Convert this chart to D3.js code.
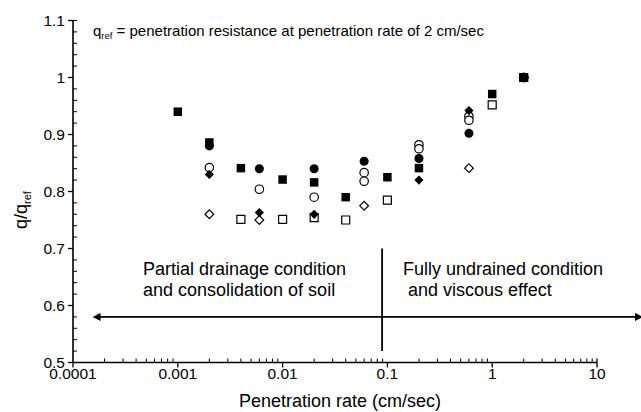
<!DOCTYPE html>
<html>
<head>
<meta charset="utf-8">
<script src="https://cdn.jsdelivr.net/npm/d3@7"></script>
<style>
  body { margin: 0; background: #fff; }
  text { font-family: "Liberation Sans", Arial, sans-serif; fill: #000; }
</style>
</head>
<body>
<svg id="chart" width="641" height="412"></svg>
<script>
// values: [rate (cm/sec), q/qref]
var filledSquare = [[0.001, 0.94], [0.002, 0.886], [0.004, 0.841], [0.01, 0.821], [0.02, 0.816],
                    [0.04, 0.79], [0.1, 0.825], [0.2, 0.841], [1, 0.971], [2, 1.0]];
var openSquare   = [[0.004, 0.751], [0.01, 0.751], [0.02, 0.754], [0.04, 0.75], [0.1, 0.785],
                    [1, 0.952], [2, 1.0]];
var filledCircle = [[0.002, 0.88], [0.006, 0.84], [0.02, 0.84], [0.06, 0.853], [0.2, 0.858],
                    [0.6, 0.902], [2, 1.0]];
var openCircle   = [[0.002, 0.842], [0.006, 0.804], [0.02, 0.79], [0.06, 0.833], [0.06, 0.818],
                    [0.2, 0.882], [0.2, 0.875], [0.6, 0.932], [0.6, 0.925], [2, 1.0]];
var filledDiamond = [[0.002, 0.83], [0.006, 0.763], [0.02, 0.76], [0.2, 0.82], [0.6, 0.942], [2, 1.0]];
var openDiamond   = [[0.002, 0.76], [0.006, 0.75], [0.06, 0.775], [0.6, 0.841], [2, 1.0]];

var xTickValues = [0.0001, 0.001, 0.01, 0.1, 1, 10];
var xTickLabels = ["0.0001", "0.001", "0.01", "0.1", "1", "10"];
var yTickValues = [0.5, 0.6, 0.7, 0.8, 0.9, 1.0, 1.1];
var yTickLabels = ["0.5", "0.6", "0.7", "0.8", "0.9", "1", "1.1"];

// boundary between the two regimes and the arrow across it
var boundaryRate = 0.089;
var boundaryRange = [0.52, 0.7];
var arrowLevel = 0.58;
var arrowSpan = [0.00018, 27];

var svg = d3.select("#chart");

var x = d3.scaleLog().domain([0.0001, 10]).range([73, 597]),
    y = d3.scaleLinear().domain([0.5, 1.1]).range([362.5, 20.5]);

// x axis: major ticks outward, minor ticks inward
var xAxis = svg.append("g").attr("transform", "translate(0," + y(0.5) + ")");
xAxis.append("line").attr("x1", x(0.0001)).attr("x2", x(10))
  .attr("stroke", "#000").attr("stroke-width", 1.6);
var minorX = x.ticks().filter(function(v) {
  return Math.abs(Math.log10(v) - Math.round(Math.log10(v))) > 1e-6;
});
xAxis.selectAll(".minor").data(minorX).enter().append("line")
  .attr("x1", function(d) { return x(d); }).attr("x2", function(d) { return x(d); })
  .attr("y1", 0).attr("y2", -4)
  .attr("stroke", "#000").attr("stroke-width", 1);
xAxis.selectAll(".major").data(xTickValues).enter().append("line")
  .attr("x1", function(d) { return x(d); }).attr("x2", function(d) { return x(d); })
  .attr("y1", 0).attr("y2", 5)
  .attr("stroke", "#000").attr("stroke-width", 1.3);
xAxis.append("line").attr("x1", x(10)).attr("x2", x(10)).attr("y1", 0).attr("y2", -4)
  .attr("stroke", "#000").attr("stroke-width", 1.3);
xAxis.selectAll(".lbl").data(xTickValues).enter().append("text")
  .attr("x", function(d) { return x(d); }).attr("y", 16)
  .attr("text-anchor", "middle").style("font-size", "15.5px")
  .text(function(d, i) { return xTickLabels[i]; });

// y axis
var yAxis = svg.append("g").attr("transform", "translate(" + x(0.0001) + ",0)");
yAxis.append("line").attr("y1", y(0.5)).attr("y2", y(1.1))
  .attr("stroke", "#000").attr("stroke-width", 1.6);
var minorY = d3.range(26, 56).map(function(i) { return i / 50; })
  .filter(function(v) { return Math.abs(v * 10 - Math.round(v * 10)) > 1e-6; });
minorY.push(1.1);
yAxis.selectAll(".minor").data(minorY).enter().append("line")
  .attr("y1", function(d) { return y(d); }).attr("y2", function(d) { return y(d); })
  .attr("x1", 0).attr("x2", 4)
  .attr("stroke", "#000").attr("stroke-width", 1);
yAxis.selectAll(".major").data(yTickValues).enter().append("line")
  .attr("y1", function(d) { return y(d); }).attr("y2", function(d) { return y(d); })
  .attr("x1", -5).attr("x2", 0)
  .attr("stroke", "#000").attr("stroke-width", 1.3);
yAxis.selectAll(".lbl").data(yTickValues).enter().append("text")
  .attr("x", -8).attr("y", function(d) { return y(d) + 5; })
  .attr("text-anchor", "end").style("font-size", "15.5px")
  .text(function(d, i) { return yTickLabels[i]; });

// axis titles
svg.append("text").attr("x", 340).attr("y", 407)
  .attr("text-anchor", "middle").style("font-size", "18px")
  .text("Penetration rate (cm/sec)");
var yTitle = svg.append("text")
  .attr("transform", "translate(27,210) rotate(-90)")
  .attr("text-anchor", "middle").style("font-size", "18px");
yTitle.append("tspan").text("q/q");
yTitle.append("tspan").attr("dy", 4).style("font-size", "11px").text("ref");

// definition note
var note = svg.append("text").attr("x", 93).attr("y", 36).style("font-size", "15px");
note.append("tspan").text("q");
note.append("tspan").attr("dy", 3).style("font-size", "9.5px").text("ref");
note.append("tspan").attr("dy", -3).text(" = penetration resistance at penetration rate of 2 cm/sec");

// regime annotation
var defs = svg.append("defs");
["start", "end"].forEach(function(k) {
  defs.append("marker").attr("id", "arrow-" + k)
    .attr("viewBox", "0 0 10 10").attr("refX", k === "end" ? 9 : 1).attr("refY", 5)
    .attr("markerWidth", 9).attr("markerHeight", 8)
    .attr("markerUnits", "userSpaceOnUse").attr("orient", "auto-start-reverse")
    .append("path").attr("d", "M0,0 L10,5 L0,10 Z").attr("fill", "#000");
});
svg.append("line")
  .attr("x1", x(arrowSpan[0])).attr("x2", x(arrowSpan[1]))
  .attr("y1", y(arrowLevel)).attr("y2", y(arrowLevel))
  .attr("stroke", "#000").attr("stroke-width", 1.6)
  .attr("marker-start", "url(#arrow-start)").attr("marker-end", "url(#arrow-end)");
svg.append("line")
  .attr("x1", x(boundaryRate)).attr("x2", x(boundaryRate))
  .attr("y1", y(boundaryRange[0])).attr("y2", y(boundaryRange[1]))
  .attr("stroke", "#000").attr("stroke-width", 1.8);

var leftNote = svg.append("text").attr("x", 143).attr("y", 275).style("font-size", "18px");
leftNote.append("tspan").text("Partial drainage condition");
leftNote.append("tspan").attr("x", 143).attr("dy", 21).text("and consolidation of soil");
var rightNote = svg.append("text").attr("x", 403).attr("y", 275).style("font-size", "18px");
rightNote.append("tspan").text("Fully undrained condition");
rightNote.append("tspan").attr("x", 403).attr("dy", 21).attr("xml:space", "preserve").text(" and viscous effect");

// markers
var series = [
  { data: openSquare,    type: d3.symbolSquare, size: 64, rot: 0,  filled: false },
  { data: openDiamond,   type: d3.symbolSquare, size: 38, rot: 45, filled: false },
  { data: openCircle,    type: d3.symbolCircle, size: 56, rot: 0,  filled: false },
  { data: filledCircle,  type: d3.symbolCircle, size: 64, rot: 0,  filled: true },
  { data: filledDiamond, type: d3.symbolSquare, size: 42, rot: 45, filled: true },
  { data: filledSquare,  type: d3.symbolSquare, size: 72, rot: 0,  filled: true }
];
series.forEach(function(s) {
  svg.append("g").selectAll("path").data(s.data).enter().append("path")
    .attr("d", d3.symbol().type(s.type).size(s.size))
    .attr("transform", function(d) {
      return "translate(" + x(d[0]) + "," + y(d[1]) + ") rotate(" + s.rot + ")";
    })
    .attr("fill", s.filled ? "#000" : "#fff")
    .attr("stroke", "#000")
    .attr("stroke-width", s.filled ? 0 : 1.2);
});
</script>
</body>
</html>
